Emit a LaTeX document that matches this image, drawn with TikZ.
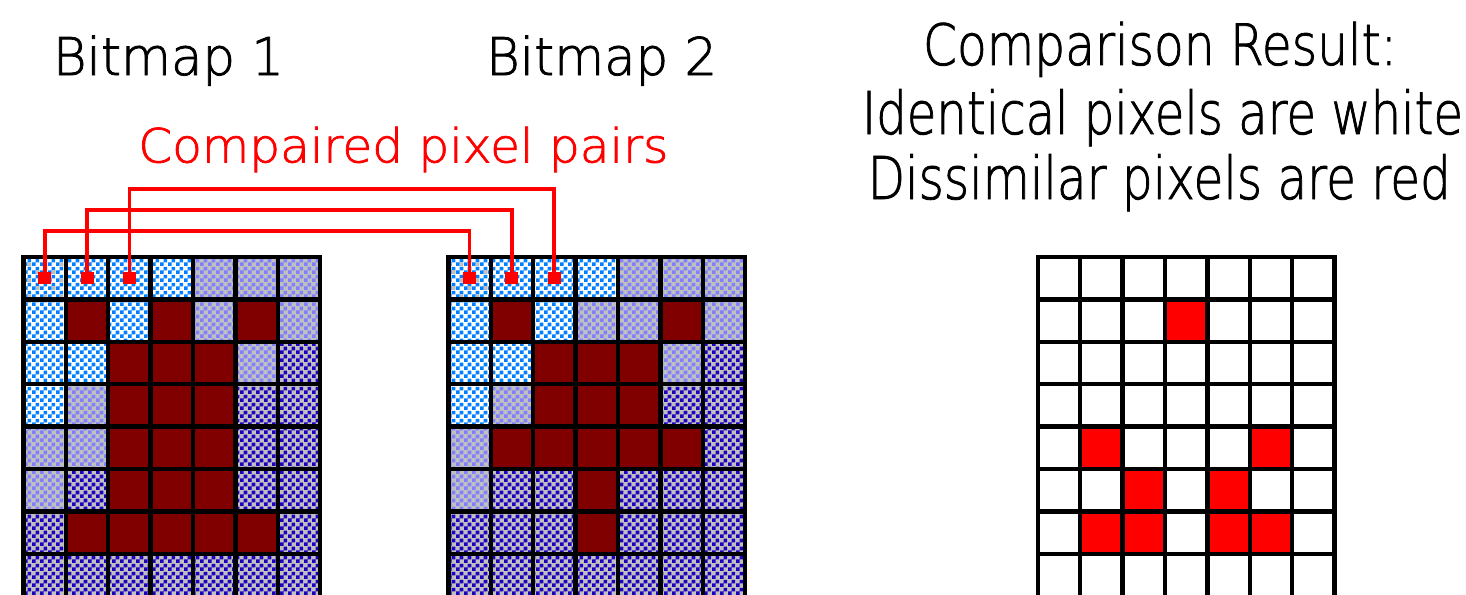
\documentclass[tikz,border=0pt]{standalone}
\usepackage{fontspec}
\setmainfont{DejaVu Sans}
\newfontfamily\thinfont[FakeBold=1.5]{DejaVu Sans ExtraLight}
\usetikzlibrary{patterns}
\pgfdeclarepatternformonly{chk}{\pgfpointorigin}{\pgfqpoint{8pt}{8pt}}{\pgfqpoint{8pt}{8pt}}{%
  \pgfpathrectangle{\pgfpointorigin}{\pgfqpoint{4pt}{4pt}}%
  \pgfpathrectangle{\pgfqpoint{4pt}{4pt}}{\pgfqpoint{4pt}{4pt}}%
  \pgfusepath{fill}}
\pgfdeclarepatternformonly{spk}{\pgfpointorigin}{\pgfqpoint{16pt}{16pt}}{\pgfqpoint{16pt}{16pt}}{%
  \pgfpathrectangle{\pgfqpoint{4pt}{0pt}}{\pgfqpoint{4pt}{4pt}}%
  \pgfpathrectangle{\pgfqpoint{12pt}{8pt}}{\pgfqpoint{4pt}{4pt}}%
  \pgfusepath{fill}}
\definecolor{lblue}{RGB}{0,128,255}
\definecolor{mblue}{RGB}{128,128,255}
\definecolor{dblue}{RGB}{32,0,192}
\definecolor{silvergray}{RGB}{192,192,192}
\definecolor{maroonred}{RGB}{128,0,0}
\definecolor{purered}{RGB}{255,0,0}
\tikzset{
  pix0/.style={fill=white, postaction={pattern=chk, pattern color=lblue}, postaction={pattern=spk, pattern color=silvergray}},
  pix1/.style={fill=white, postaction={pattern=chk, pattern color=lblue}},
  pix2/.style={fill=silvergray, postaction={pattern=chk, pattern color=mblue}},
  pix3/.style={fill=silvergray, postaction={pattern=chk, pattern color=dblue}},
  pix4/.style={fill=maroonred},
  pix5/.style={fill=white},
  pix6/.style={fill=purered},
  gridline/.style={draw=black, line width=4.4pt, line cap=rect},
  probe/.style={fill=purered, minimum width=13pt, minimum height=12pt, inner sep=0pt},
  conn/.style={draw=purered, line width=3.8pt, line join=miter},
  lbl/.style={inner sep=0pt, anchor=base}
}
\newcommand\pixgrid[2]{%
  \foreach \rr [count=\r from 0] in {#2} {%
    \foreach \v [count=\c from 0] in \rr {%
      \path[pix\v] ({#1+\c*42.4},{257+\r*42.4}) rectangle ++(42.4,42.4);
    }%
  }%
  \foreach \k in {0,...,7} {%
    \draw[gridline] ({#1+\k*42.4},257) -- ({#1+\k*42.4},600);
    \draw[gridline] (#1,{257+\k*42.4}) -- ({#1+7*42.4},{257+\k*42.4});
  }%
}
\begin{document}
\begin{tikzpicture}[x=1pt,y=-1pt]
\useasboundingbox (0,0) rectangle (1466,594);
\fill[white] (0,0) rectangle (1466,594);
\begin{scope}
\clip (0,0) rectangle (1466,594);
% Bitmap 1
\pixgrid{23.4}{{0,1,1,1,2,2,2},{1,4,1,4,2,4,2},{1,1,4,4,4,2,3},{1,2,4,4,4,3,3},{2,2,4,4,4,3,3},{2,3,4,4,4,3,3},{3,4,4,4,4,4,3},{3,3,3,3,3,3,3}}
% Bitmap 2
\pixgrid{448.3}{{0,1,1,1,2,2,2},{1,4,1,2,2,4,2},{1,1,4,4,4,2,3},{1,2,4,4,4,3,3},{2,4,4,4,4,4,3},{2,3,3,4,3,3,3},{3,3,3,4,3,3,3},{3,3,3,3,3,3,3}}
% Result
\pixgrid{1037.7}{{5,5,5,5,5,5,5},{5,5,5,6,5,5,5},{5,5,5,5,5,5,5},{5,5,5,5,5,5,5},{5,6,5,5,5,6,5},{5,5,6,5,6,5,5},{5,6,6,5,6,6,5},{5,5,5,5,5,5,5}}
\end{scope}
% probe squares
\node[probe] (a0) at (44.6,278.2) {};
\node[probe] (a1) at (87.0,278.2) {};
\node[probe] (a2) at (129.4,278.2) {};
\node[probe] (b0) at (469.5,278.2) {};
\node[probe] (b1) at (511.9,278.2) {};
\node[probe] (b2) at (554.3,278.2) {};
\coordinate (lv0) at (0,231);
\coordinate (lv1) at (0,210);
\coordinate (lv2) at (0,188.7);
\draw[conn] (a0.north) -- (a0.north |- lv0) -- (b0.north |- lv0) -- (b0.north);
\draw[conn] (a1.north) -- (a1.north |- lv1) -- (b1.north |- lv1) -- (b1.north);
\draw[conn] (a2.north) -- (a2.north |- lv2) -- (b2.north |- lv2) -- (b2.north);
% labels
\node[lbl] (t1) at (168.5,75) {\resizebox{231pt}{\height}{\fontsize{52}{60}\selectfont\thinfont Bitmap 1}};
\node[lbl] (t2) at (601.7,75) {\resizebox{231pt}{\height}{\fontsize{52}{60}\selectfont\thinfont Bitmap 2}};
\node[lbl, text=purered] (t3) at (403.3,162.4) {\resizebox{530pt}{\height}{\fontsize{47}{55}\selectfont\thinfont Compaired pixel pairs}};
\node[lbl] (t4) at (1160,65) {\resizebox{474pt}{\height}{\fontsize{57}{65}\selectfont\thinfont Comparison Result:}};
\node[lbl] (t5) at (1162.5,134) {\resizebox{601pt}{\height}{\fontsize{59}{67}\selectfont\thinfont Identical pixels are white}};
\node[lbl] (t6) at (1159.3,199) {\resizebox{583pt}{\height}{\fontsize{59}{67}\selectfont\thinfont Dissimilar pixels are red}};
\end{tikzpicture}
\end{document}
